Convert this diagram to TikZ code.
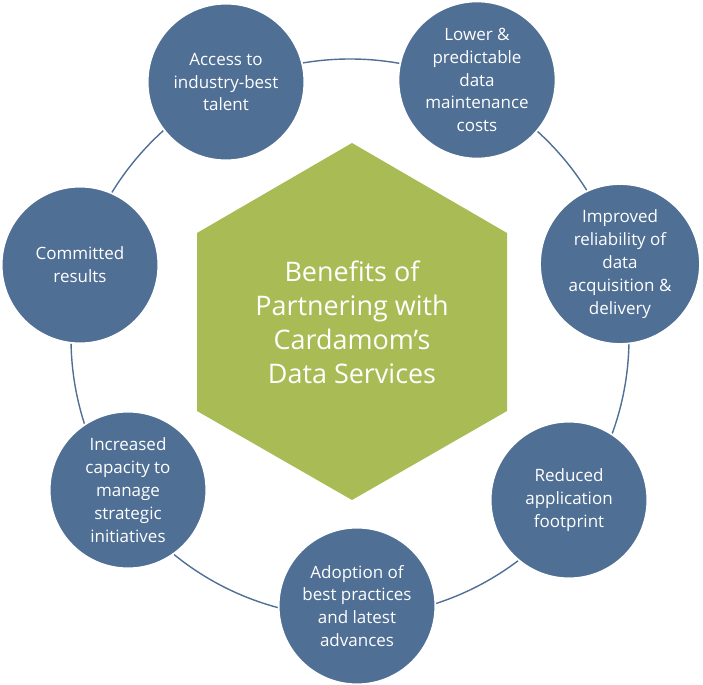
\documentclass[tikz,border=0pt]{standalone}
\usepackage{fontspec}
\setmainfont{Open Sans}
\usetikzlibrary{shapes.geometric}
\definecolor{benblue}{HTML}{4F6F95}
\definecolor{bengreen}{HTML}{A8BB55}

\begin{document}
\begin{tikzpicture}[x=0.03cm,y=-0.03cm,
      benefit/.style={circle,fill=benblue,draw=white,line width=1.5pt,minimum size=4.7cm,
        text=white,align=center,font=\fontsize{14.5}{19.5}\selectfont},
      ring/.style={draw=benblue,line width=1.2pt}
    ]
    \useasboundingbox (0,0) rectangle (703,685);
    \coordinate (mid) at (350,338);
    \draw[ring] (mid) circle (279*0.03cm);
    \fill[bengreen] (352,143) -- (507,233) -- (507,411) -- (352,500) -- (197,411) -- (197,233) -- cycle;
    \node[text=white,align=center,font=\fontsize{23}{29}\selectfont] (hub) at (352,322)
      {Benefits of\\Partnering with\\Cardamom’s\\Data Services};

    \node[benefit] (talent) at (226,82) {Access to\\industry-best\\talent};
    \node[benefit] (costs) at (477,80) {Lower \&\\predictable\\data\\maintenance\\costs};
    \node[benefit] (reliab) at (620,264) {Improved\\reliability of\\data\\acquisition \&\\delivery};
    \node[benefit] (footpr) at (569,500) {Reduced\\application\\footprint};
    \node[benefit] (adopt) at (357,606) {Adoption of\\best practices\\and latest\\advances};
    \node[benefit] (capac) at (128,490) {Increased\\capacity to\\manage\\strategic\\initiatives};
    \node[benefit] (commit) at (80,265) {Committed\\results};
  \end{tikzpicture}
\end{document}
